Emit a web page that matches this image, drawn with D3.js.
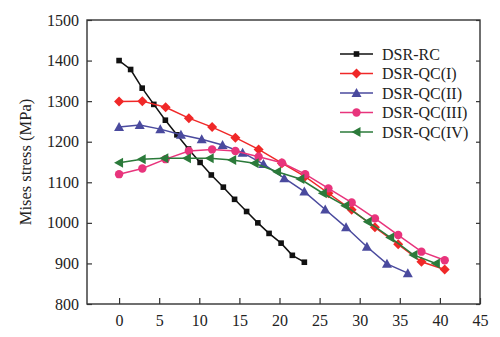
<!DOCTYPE html>
<html>
<head>
<meta charset="utf-8">
<script src="https://cdn.jsdelivr.net/npm/d3@7"></script>
<style>
  html, body { margin: 0; padding: 0; background: #fff; }
  svg { display: block; }
  text { font-family: "Liberation Serif", "Times New Roman", serif; fill: #222; }
</style>
</head>
<body>
<svg id="chart" width="500" height="337"></svg>
<script>
// ---- data ----
const seriesNames = ["DSR-RC", "DSR-QC(I)", "DSR-QC(II)", "DSR-QC(III)", "DSR-QC(IV)"];

const rcX = [0, 1.44, 2.88, 4.33, 5.77, 7.21, 8.65, 10.1, 11.5, 13.0, 14.4, 15.9, 17.3, 18.7, 20.2, 21.6, 23.1];
const rcY = [1400, 1378, 1332, 1292, 1253, 1217, 1182, 1149, 1118, 1088, 1058, 1028, 1000, 974, 950, 920, 903];

const qc1X = [0, 2.9, 5.8, 8.7, 11.6, 14.5, 17.4, 20.3, 23.2, 26.1, 29.0, 31.9, 34.8, 37.7, 40.6];
const qc1Y = [1299, 1300, 1285, 1258, 1236, 1210, 1181, 1147, 1114, 1073, 1032, 989, 947, 904, 885];

const qc2X = [0, 2.57, 5.14, 7.71, 10.3, 12.9, 15.4, 18.0, 20.6, 23.1, 25.7, 28.3, 30.9, 33.4, 36.0];
const qc2Y = [1236, 1241, 1231, 1217, 1206, 1192, 1173, 1145, 1110, 1077, 1033, 989, 941, 899, 876];

const qc3X = [0, 2.9, 5.8, 8.7, 11.6, 14.5, 17.4, 20.3, 23.2, 26.1, 29.0, 31.9, 34.8, 37.7, 40.6];
const qc3Y = [1120, 1134, 1157, 1177, 1181, 1177, 1163, 1148, 1120, 1085, 1050, 1011, 970, 929, 908];

const qc4X = [0, 2.82, 5.64, 8.46, 11.3, 14.1, 16.9, 19.7, 22.6, 25.4, 28.2, 31.0, 33.8, 36.7, 39.5];
const qc4Y = [1148, 1157, 1159, 1159, 1159, 1155, 1147, 1126, 1108, 1073, 1042, 1003, 964, 921, 900];

const xTicks = [0, 5, 10, 15, 20, 25, 30, 35, 40, 45];
const yTicks = [800, 900, 1000, 1100, 1200, 1300, 1400, 1500];
const yLabel = "Mises stress (MPa)";

// ---- layout / style ----
const colors = ["#111111", "#f02828", "#4a4a9e", "#e8347c", "#2b7a3a"];
const symbols = ["square", "diamond", "triUp", "circle", "triLeft"];
const seriesData = [[rcX, rcY], [qc1X, qc1Y], [qc2X, qc2Y], [qc3X, qc3Y], [qc4X, qc4Y]];

const svg = d3.select("#chart");
const mL = 87, mR = 480, mT = 20, mB = 304;

const x = d3.scaleLinear().domain([-4, 45]).range([mL, mR]);
const y = d3.scaleLinear().domain([800, 1500]).range([mB, mT]);

function drawMarker(g, type, cx, cy, color) {
  if (type === "square") {
    g.append("rect").attr("x", cx - 2.8).attr("y", cy - 2.8).attr("width", 5.6).attr("height", 5.6).attr("fill", color);
  } else if (type === "diamond") {
    const s = 5;
    g.append("path").attr("d", `M${cx},${cy - s}L${cx + s},${cy}L${cx},${cy + s}L${cx - s},${cy}Z`).attr("fill", color);
  } else if (type === "triUp") {
    const s = 5;
    g.append("path").attr("d", `M${cx},${cy - s}L${cx + s},${cy + s * 0.8}L${cx - s},${cy + s * 0.8}Z`).attr("fill", color);
  } else if (type === "circle") {
    g.append("circle").attr("cx", cx).attr("cy", cy).attr("r", 4.2).attr("fill", color);
  } else if (type === "triLeft") {
    const s = 5;
    g.append("path").attr("d", `M${cx - s},${cy}L${cx + s * 0.8},${cy - s}L${cx + s * 0.8},${cy + s}Z`).attr("fill", color);
  }
}

// Frame
svg.append("rect").attr("x", mL).attr("y", mT).attr("width", mR - mL).attr("height", mB - mT)
  .attr("fill", "none").attr("stroke", "#333").attr("stroke-width", 1.4);

// X axis (inward ticks)
const xAxis = d3.axisBottom(x).tickValues(xTicks).tickSize(-6).tickPadding(11).tickFormat(d3.format("d"));
const gx = svg.append("g").attr("transform", `translate(0,${mB})`).call(xAxis);
gx.select(".domain").remove();
gx.selectAll(".tick line").attr("stroke", "#333").attr("stroke-width", 1.2);
gx.selectAll(".tick text").attr("font-size", 16).attr("font-family", "Liberation Serif").attr("fill", "#222");

// Y axis (inward ticks)
const yAxis = d3.axisLeft(y).tickValues(yTicks).tickSize(-5).tickPadding(8).tickFormat(d3.format("d"));
const gy = svg.append("g").attr("transform", `translate(${mL},0)`).call(yAxis);
gy.select(".domain").remove();
gy.selectAll(".tick line").attr("stroke", "#333").attr("stroke-width", 1.2);
gy.selectAll(".tick text").attr("font-size", 16).attr("font-family", "Liberation Serif").attr("fill", "#222");

// Right mirrored ticks
const gr = svg.append("g").attr("transform", `translate(${mR},0)`).call(d3.axisRight(y).tickValues(yTicks).tickSize(-4).tickFormat(""));
gr.select(".domain").remove();
gr.selectAll(".tick line").attr("stroke", "#333").attr("stroke-width", 1.2);

// Y label
svg.append("text")
  .attr("transform", `translate(31,${(mT + mB) / 2}) rotate(-90)`)
  .attr("text-anchor", "middle")
  .attr("font-size", 16.5)
  .text(yLabel);

// Series
const line = d3.line().x(d => x(d[0])).y(d => y(d[1]));
seriesData.forEach((s, i) => {
  const pts = s[0].map((xv, j) => [xv, s[1][j]]);
  const g = svg.append("g");
  g.append("path").datum(pts).attr("d", line).attr("fill", "none").attr("stroke", colors[i]).attr("stroke-width", 1.5);
  pts.forEach(p => drawMarker(g, symbols[i], x(p[0]), y(p[1]), colors[i]));
});

// Legend
const lg = svg.append("g");
const legX0 = 340, legX1 = 373, legY0 = 54, legDy = 19.5;
seriesNames.forEach((name, i) => {
  const yy = legY0 + i * legDy;
  lg.append("line").attr("x1", legX0).attr("x2", legX1).attr("y1", yy).attr("y2", yy)
    .attr("stroke", colors[i]).attr("stroke-width", 1.5);
  drawMarker(lg, symbols[i], (legX0 + legX1) / 2, yy, colors[i]);
  lg.append("text").attr("x", 382).attr("y", yy + 5.5).attr("font-size", 16).text(name);
});
</script>
</body>
</html>
